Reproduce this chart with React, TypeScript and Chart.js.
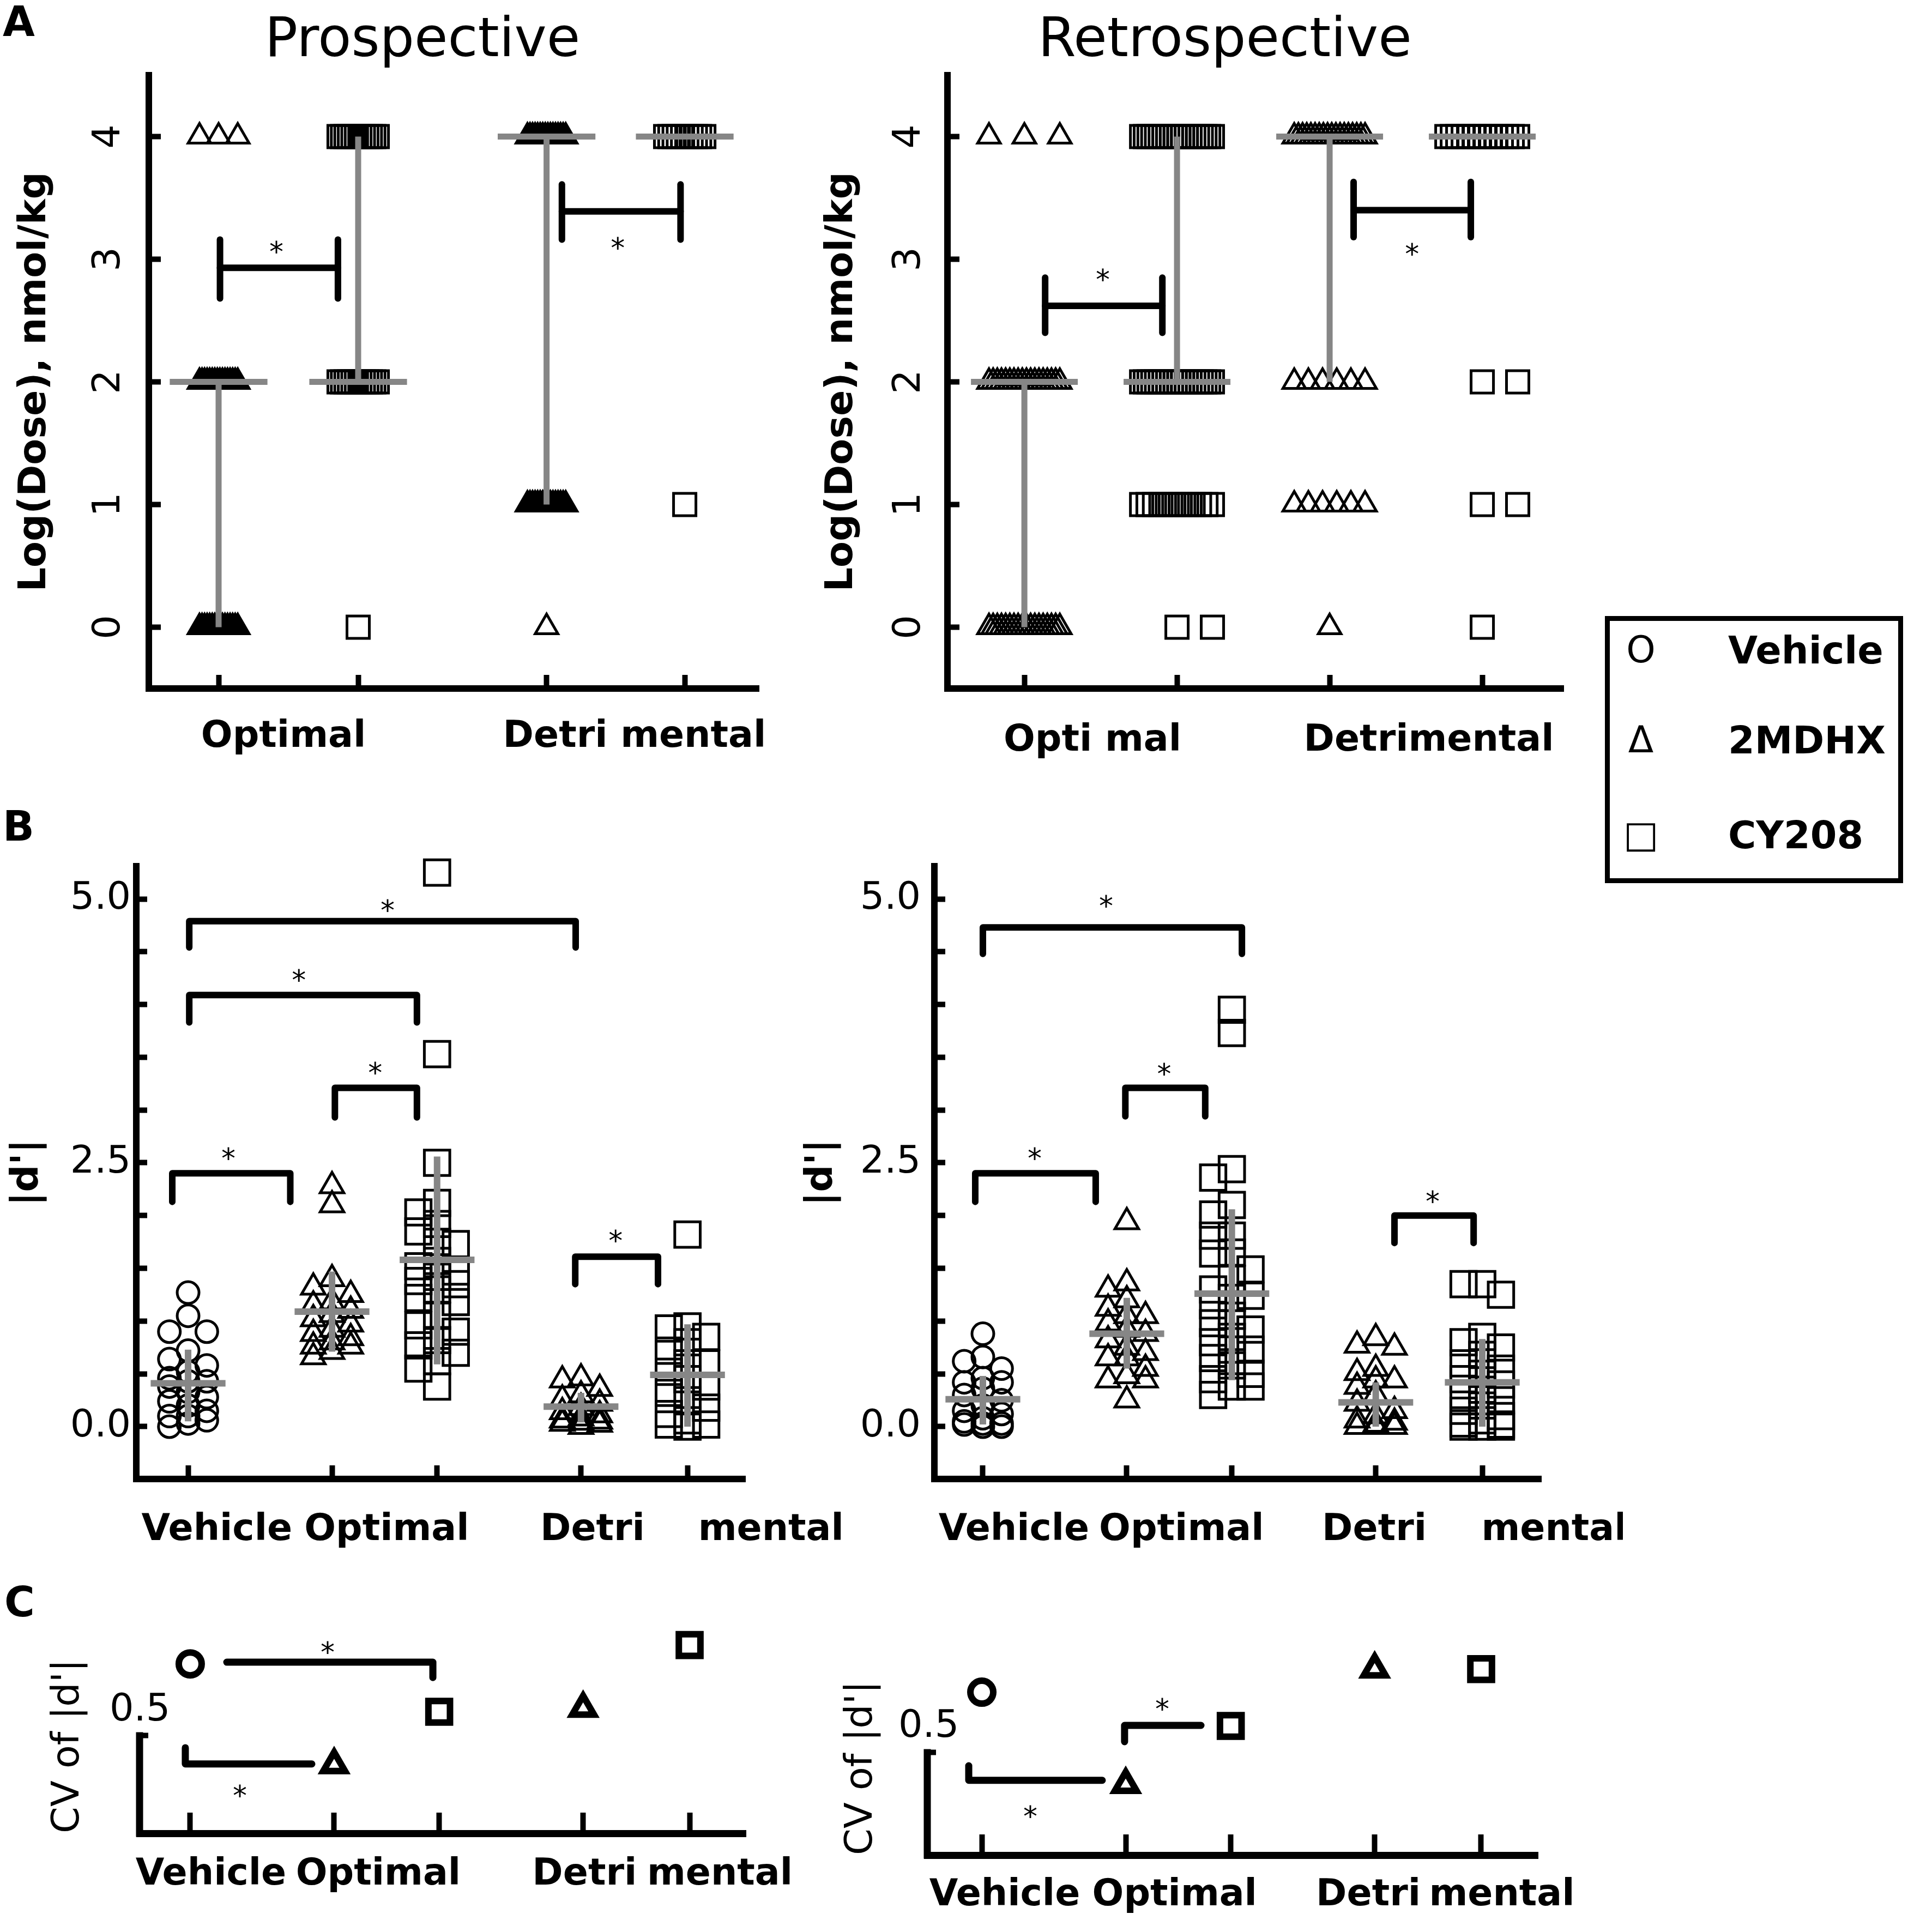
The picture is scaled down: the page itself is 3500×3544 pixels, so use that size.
import React, { useEffect, useRef } from 'react';
import { Chart, registerables } from 'chart.js';

Chart.register(...registerables);

const FONT = '"DejaVu Sans", "Liberation Sans", Arial, sans-serif';
const GRAY = '#868686';
Chart.defaults.font.family = FONT;
Chart.defaults.color = '#000';

// ---------------- Panel A : Log(Dose), nmol/kg ----------------
const A_GROUPS = ['Optimal 2MDHX', 'Optimal CY208', 'Detrimental 2MDHX', 'Detrimental CY208'];
const A_STYLES = ['triangle', 'rect', 'triangle', 'rect'];
const A_Y_TICKS = [0, 1, 2, 3, 4];

const PRO_OPT_2MDHX = [4, 4, 4, 2, 2, 2, 2, 2, 2, 2, 2, 2, 2, 2, 2, 2, 2, 2, 2, 0, 0, 0, 0, 0, 0, 0, 0, 0, 0, 0, 0, 0, 0, 0, 0];
const PRO_OPT_CY208 = [4, 4, 4, 4, 4, 4, 4, 4, 4, 4, 4, 4, 2, 2, 2, 2, 2, 2, 2, 2, 2, 2, 2, 2, 0];
const PRO_DET_2MDHX = [4, 4, 4, 4, 4, 4, 4, 4, 4, 4, 4, 4, 4, 4, 4, 4, 1, 1, 1, 1, 1, 1, 1, 1, 1, 1, 1, 1, 1, 1, 1, 1, 0];
const PRO_DET_CY208 = [4, 4, 4, 4, 4, 4, 4, 4, 4, 4, 1];
const PRO_MEDIAN = [2, 2, 4, 4];
const PRO_LOW = [0, 2, 1, 4];
const PRO_HIGH = [2, 4, 4, 4];

const RETRO_OPT_2MDHX = [4, 4, 4, 2, 2, 2, 2, 2, 2, 2, 2, 2, 2, 2, 2, 2, 2, 2, 2, 2, 2, 0, 0, 0, 0, 0, 0, 0, 0, 0, 0, 0, 0, 0, 0, 0, 0, 0, 0];
const RETRO_OPT_CY208 = [4, 4, 4, 4, 4, 4, 4, 4, 4, 4, 4, 4, 4, 4, 4, 4, 4, 4, 4, 4, 2, 2, 2, 2, 2, 2, 2, 2, 2, 2, 2, 2, 2, 2, 2, 2, 2, 2, 2, 2, 1, 1, 1, 1, 1, 1, 1, 1, 1, 1, 1, 1, 0, 0];
const RETRO_DET_2MDHX = [4, 4, 4, 4, 4, 4, 4, 4, 4, 4, 4, 4, 4, 4, 4, 4, 4, 4, 2, 2, 2, 2, 2, 2, 1, 1, 1, 1, 1, 1, 0];
const RETRO_DET_CY208 = [4, 4, 4, 4, 4, 4, 4, 4, 4, 4, 4, 4, 4, 4, 2, 2, 1, 1, 0];
const RETRO_MEDIAN = [2, 2, 4, 4];
const RETRO_LOW = [0, 2, 2, 4];
const RETRO_HIGH = [2, 4, 4, 4];

// ---------------- Panel B : |d'| ----------------
const BC_GROUPS = ['Vehicle', 'Optimal 2MDHX', 'Optimal CY208', 'Detrimental 2MDHX', 'Detrimental CY208'];
const BC_STYLES = ['circle', 'triangle', 'rect', 'triangle', 'rect'];
const B_Y_TICKS = [0, 0.5, 1, 1.5, 2, 2.5, 3, 3.5, 4, 4.5, 5];

const PRO_D_VEHICLE = [1.27, 1.05, 0.9, 0.9, 0.72, 0.64, 0.58, 0.52, 0.46, 0.43, 0.43, 0.38, 0.33, 0.28, 0.24, 0.2, 0.15, 0.1, 0.1, 0.06, 0.03, 0.0];
const PRO_D_OPT_2MDHX = [2.28, 2.1, 1.4, 1.32, 1.25, 1.18, 1.15, 1.1, 1.06, 1.02, 0.97, 0.92, 0.88, 0.84, 0.8, 0.76, 0.76, 0.71, 0.66];
const PRO_D_OPT_CY208 = [5.25, 3.53, 2.5, 2.12, 2.03, 1.92, 1.85, 1.75, 1.73, 1.57, 1.52, 1.47, 1.42, 1.38, 1.35, 1.3, 1.22, 1.18, 1.05, 0.96, 0.9, 0.82, 0.77, 0.7, 0.62, 0.55, 0.38];
const PRO_D_DET_2MDHX = [0.46, 0.44, 0.36, 0.3, 0.26, 0.22, 0.18, 0.14, 0.11, 0.08, 0.06, 0.05, 0.04, 0.03, 0.02, 0.0];
const PRO_D_DET_CY208 = [1.82, 0.95, 0.93, 0.85, 0.8, 0.72, 0.6, 0.6, 0.52, 0.45, 0.38, 0.32, 0.25, 0.18, 0.12, 0.06, 0.02, 0.02, 0.0];
const PRO_D_MEAN = [0.41, 1.09, 1.58, 0.19, 0.49];
const PRO_D_LOW = [0.05, 0.71, 0.59, 0.04, 0.0];
const PRO_D_HIGH = [0.73, 1.47, 2.56, 0.32, 0.97];

const RETRO_D_VEHICLE = [0.88, 0.66, 0.62, 0.55, 0.46, 0.42, 0.42, 0.36, 0.3, 0.25, 0.2, 0.15, 0.12, 0.08, 0.05, 0.03, 0.03, 0.02, 0.0, 0.0];
const RETRO_D_OPT_2MDHX = [1.94, 1.36, 1.3, 1.2, 1.12, 1.05, 1.05, 0.98, 0.92, 0.88, 0.82, 0.75, 0.7, 0.65, 0.65, 0.55, 0.48, 0.44, 0.44, 0.25];
const RETRO_D_OPT_CY208 = [3.95, 3.73, 2.44, 2.36, 2.1, 2.01, 1.81, 1.81, 1.65, 1.64, 1.49, 1.4, 1.3, 1.24, 1.22, 1.15, 1.05, 0.98, 0.92, 0.85, 0.8, 0.73, 0.73, 0.65, 0.58, 0.5, 0.45, 0.38, 0.38, 0.3];
const RETRO_D_DET_2MDHX = [0.84, 0.77, 0.75, 0.55, 0.51, 0.44, 0.44, 0.38, 0.3, 0.22, 0.15, 0.1, 0.06, 0.04, 0.02, 0.0, 0.0, 0.0];
const RETRO_D_DET_CY208 = [1.35, 1.35, 1.25, 0.85, 0.8, 0.75, 0.68, 0.6, 0.55, 0.5, 0.45, 0.4, 0.35, 0.3, 0.25, 0.2, 0.15, 0.1, 0.06, 0.03, 0.02, 0.0, 0.0, 0.0];
const RETRO_D_MEAN = [0.26, 0.88, 1.26, 0.23, 0.42];
const RETRO_D_LOW = [0.02, 0.55, 0.44, 0.0, 0.0];
const RETRO_D_HIGH = [0.48, 1.22, 2.06, 0.42, 0.83];

// ---------------- Panel C : CV of |d'| ----------------
const C_Y_TICKS = [0.5];
const C_AXIS_TOP = 0.5;
const PRO_CV = [0.92, 0.33, 0.64, 0.66, 1.03];
const RETRO_CV = [0.84, 0.32, 0.65, 0.97, 0.97];

// ---------------- category slots & tick labels ----------------
const PRO_A_SLOTS = [1, 2, 3.35, 4.34];
const RETRO_A_SLOTS = [1, 2, 3, 4];
const BC_SLOTS = [1, 2, 2.73, 3.73, 4.47];

const PRO_A_LABELS = ['Optimal', 'Detri mental'];
const PRO_A_LABEL_POS = [1.465, 3.98];
const RETRO_A_LABELS = ['Opti mal', 'Detrimental'];
const RETRO_A_LABEL_POS = [1.446, 3.65];
const BC_LABELS = ['Vehicle', 'Optimal', 'Detri', 'mental'];
const PRO_B_LABEL_POS = [1.2, 2.38, 3.81, 5.05];
const RETRO_B_LABEL_POS = [1.216, 2.38, 3.72, 4.97];
const PRO_C_LABEL_POS = [1.144, 2.307, 3.74, 4.68];
const RETRO_C_LABEL_POS = [1.159, 2.34, 3.686, 4.614];

// ---------------- significance annotations ----------------
// H-brackets: [x1, x2, y, capLow, capHigh]
const PRO_A_BRACKETS = [[1.01, 1.855, 2.93, 2.68, 3.16], [3.46, 4.31, 3.39, 3.16, 3.61]];
const RETRO_A_BRACKETS = [[1.136, 1.904, 2.62, 2.4, 2.85], [3.157, 3.925, 3.4, 3.18, 3.63]];
// hooks: [x1, x2, y, tipAtX1 | null, tipAtX2 | null]
const PRO_B_BRACKETS = [
  [1.008, 3.693, 4.79, 4.54, 4.54], [1.008, 2.59, 4.09, 3.83, 3.83], [2.02, 2.59, 3.21, 2.93, 2.93],
  [0.89, 1.71, 2.4, 2.13, 2.13], [3.69, 4.265, 1.61, 1.35, 1.35],
];
const RETRO_B_BRACKETS = [
  [1.0, 2.8, 4.73, 4.48, 4.48], [1.99, 2.545, 3.21, 2.94, 2.94], [0.947, 1.784, 2.4, 2.13, 2.13], [3.86, 4.41, 2.0, 1.74, 1.74],
];
const PRO_C_BRACKETS = [[1.254, 2.686, 0.93, null, 0.84], [0.966, 1.845, 0.335, 0.43, null]];
const RETRO_C_BRACKETS = [[0.909, 1.837, 0.344, 0.426, null], [1.992, 2.523, 0.653, 0.561, null]];

const PRO_A_STARS = [[1.414, 3.12], [3.86, 3.15]];
const RETRO_A_STARS = [[1.514, 2.89], [3.54, 3.1]];
const PRO_B_STARS = [[2.386, 4.96], [1.77, 4.3], [2.3, 3.42], [1.28, 2.61], [3.97, 1.83]];
const RETRO_B_STARS = [[1.856, 5.0], [2.26, 3.41], [1.36, 2.61], [4.125, 2.2]];
const PRO_C_STARS = [[1.955, 1.03], [1.345, 0.19]];
const RETRO_C_STARS = [[2.254, 0.785], [1.337, 0.18]];

const LEGEND_SYMBOLS = ['O', '\u0394', '\u25A1'];
const LEGEND_LABELS = ['Vehicle', '2MDHX', 'CY208'];

// ---------------- helpers ----------------
function levelSpread(values: number[], center: number, half: number) {
  const counts = new Map<number, number>();
  values.forEach((v) => counts.set(v, (counts.get(v) || 0) + 1));
  const seen = new Map<number, number>();
  return values.map((v) => {
    const n = counts.get(v) as number;
    const k = seen.get(v) || 0;
    seen.set(v, k + 1);
    let off = 0;
    if (n === 2) off = k === 0 ? 0 : half;
    else if (n > 2) off = -half + (2 * half * k) / (n - 1);
    return { x: center + off, y: v };
  });
}

function swarm(values: number[], center: number, dx: number, minSep: number) {
  const order = values.map((_, i) => i).sort((a, b) => values[b] - values[a]);
  const cols = [0, -1, 1];
  const placed: { c: number; y: number }[] = [];
  const out: any[] = new Array(values.length);
  for (const i of order) {
    const v = values[i];
    let best = 0;
    let bestD = -1;
    for (const c of cols) {
      const ds = placed.filter((p) => p.c === c).map((p) => Math.abs(p.y - v));
      const d = ds.length ? Math.min(...ds) : Infinity;
      if (d >= minSep) { best = c; bestD = Infinity; break; }
      if (d > bestD) { bestD = d; best = c; }
    }
    placed.push({ c: best, y: v });
    out[i] = { x: center + best * dx, y: v };
  }
  return out;
}

function markerSet(label: string, points: any[], style: string, radius: number, bw: number) {
  return {
    label, data: points, yAxisID: 'y', showLine: false, pointStyle: style, pointRadius: radius,
    pointHoverRadius: radius, pointBorderWidth: bw, pointHoverBorderWidth: bw, pointBorderColor: '#000',
    pointBackgroundColor: 'rgba(0,0,0,0)', clip: false, order: 3,
  };
}

function lineSet(label: string, points: any[], color: string, width: number, cap: string, order: number) {
  return {
    label, data: points, yAxisID: 'y', showLine: true, borderColor: color, borderWidth: width,
    borderCapStyle: cap, borderJoinStyle: 'round', pointRadius: 0, pointHoverRadius: 0, tension: 0,
    spanGaps: false, clip: false, order, fill: false,
  };
}

function summaryBars(prefix: string, slots: number[], mid: number[], lo: number[], hi: number[], half: number, width: number) {
  const sets: any[] = [];
  slots.forEach((s, i) => {
    sets.push(lineSet(`${prefix} ${i} centre`, [{ x: s - half, y: mid[i] }, { x: s + half, y: mid[i] }], GRAY, width, 'butt', 1));
    if (hi[i] > lo[i]) sets.push(lineSet(`${prefix} ${i} range`, [{ x: s, y: lo[i] }, { x: s, y: hi[i] }], GRAY, width, 'butt', 1));
  });
  return sets;
}

function hBrackets(list: number[][], width: number) {
  const sets: any[] = [];
  list.forEach(([x1, x2, y, lo, hi], i) => {
    sets.push(lineSet(`sig ${i} a`, [{ x: x1, y: lo }, { x: x1, y: hi }], '#000', width, 'round', 0));
    sets.push(lineSet(`sig ${i} b`, [{ x: x1, y }, { x: x2, y }], '#000', width, 'round', 0));
    sets.push(lineSet(`sig ${i} c`, [{ x: x2, y: lo }, { x: x2, y: hi }], '#000', width, 'round', 0));
  });
  return sets;
}

function hookBrackets(list: any[][], width: number) {
  return list.map(([x1, x2, y, t1, t2], i) => {
    const pts: any[] = [];
    if (t1 !== null) pts.push({ x: x1, y: t1 });
    pts.push({ x: x1, y });
    pts.push({ x: x2, y });
    if (t2 !== null) pts.push({ x: x2, y: t2 });
    return lineSet(`sig ${i}`, pts, '#000', width, 'round', 0);
  });
}

const starPlugin = {
  id: 'sigStars',
  afterDatasetsDraw(chart: any, _args: any, opts: any) {
    const items = (opts && opts.items) || [];
    const size = (opts && opts.size) || 52;
    const { ctx } = chart;
    const xs = chart.scales.x;
    const ys = chart.scales.y;
    ctx.save();
    ctx.fillStyle = '#000';
    ctx.font = `${size}px ${FONT}`;
    ctx.textAlign = 'center';
    ctx.textBaseline = 'alphabetic';
    for (let i = 0; i < items.length; i++) {
      const s = items[i];
      ctx.fillText('*', xs.getPixelForValue(s[0]), ys.getPixelForValue(s[1]) + 0.6 * size);
    }
    ctx.restore();
  },
};

// y-axis line that stops at a given value (panel C axis is shorter than the plot area)
const partialAxisPlugin = {
  id: 'partialAxis',
  beforeDatasetsDraw(chart: any, _args: any, opts: any) {
    if (!opts || !opts.enabled) return;
    const { ctx, chartArea } = chart;
    const ys = chart.scales.y;
    const yTop = ys.getPixelForValue(opts.top) - opts.width / 2;
    ctx.save();
    ctx.strokeStyle = '#000';
    ctx.lineWidth = opts.width;
    ctx.lineCap = 'butt';
    ctx.beginPath();
    ctx.moveTo(chartArea.left, chartArea.bottom + opts.width / 2);
    ctx.lineTo(chartArea.left, yTop);
    ctx.stroke();
    ctx.restore();
  },
};

// ---------------- panel specs ----------------
function aDatasets(groups: number[][], slots: number[], half: number, med: number[], lo: number[], hi: number[], brackets: number[][]) {
  const sets: any[] = [];
  groups.forEach((vals, i) => {
    const style = A_STYLES[i];
    sets.push(markerSet(A_GROUPS[i], levelSpread(vals, slots[i], half), style, style === 'rect' ? 29 : 24, 5));
  });
  return [...sets, ...summaryBars('median', slots, med, lo, hi, 0.35, 11), ...hBrackets(brackets, 12)];
}

function bDatasets(groups: number[][], mean: number[], lo: number[], hi: number[], brackets: any[][]) {
  const sets: any[] = [];
  groups.forEach((vals, i) => {
    const style = BC_STYLES[i];
    const r = style === 'rect' ? 33 : style === 'triangle' ? 25 : 20;
    sets.push(markerSet(BC_GROUPS[i], swarm(vals, BC_SLOTS[i], 0.13, 0.16), style, r, 5));
  });
  return [...sets, ...summaryBars('mean', BC_SLOTS, mean, lo, hi, 0.26, 12), ...hookBrackets(brackets, 12)];
}

function cDatasets(cv: number[], brackets: any[][]) {
  const sets = cv.map((v, i) => {
    const style = BC_STYLES[i];
    const r = style === 'rect' ? 28 : style === 'triangle' ? 23 : 21;
    return markerSet(BC_GROUPS[i], [{ x: BC_SLOTS[i], y: v }], style, r, 12);
  });
  return [...sets, ...hookBrackets(brackets, 13)];
}

const fmtInt = (v: number) => String(v);
const fmtD = (v: number) => (Math.abs(v / 2.5 - Math.round(v / 2.5)) < 1e-9 ? v.toFixed(1) : '');
const fmtCV = (v: number) => v.toFixed(1);

const PANELS: any[] = [
  {
    key: 'A-pro', left: 0, top: 0, width: 1550, height: 1423, yAxisWidth: 273, xAxisHeight: 160, padTop: 0, padRight: 0, rightGap: 158,
    title: 'Prospective',
    x: { min: 0.5, max: 4.871, marks: PRO_A_SLOTS, labels: PRO_A_LABELS, labelPos: PRO_A_LABEL_POS, tickLen: 25, labelPad: 74 },
    y: { min: -0.5, max: 4.5, ticks: A_Y_TICKS, fmt: fmtInt, rotate: 90, crossAlign: 'center', mirror: false, pad: 72, labelOffset: 0, tickLen: 22,
      title: 'Log(Dose), nmol/kg', titleWeight: 'bold', titlePad: 23, titleAlign: 'center' },
    axisWidth: 12, partialTop: null,
    datasets: aDatasets([PRO_OPT_2MDHX, PRO_OPT_CY208, PRO_DET_2MDHX, PRO_DET_CY208], PRO_A_SLOTS, 0.137, PRO_MEDIAN, PRO_LOW, PRO_HIGH, PRO_A_BRACKETS),
    stars: PRO_A_STARS,
  },
  {
    key: 'A-retro', left: 1480, top: 0, width: 1534, height: 1423, yAxisWidth: 258, xAxisHeight: 160, padTop: 0, padRight: 0, rightGap: 146,
    title: 'Retrospective',
    x: { min: 0.496, max: 4.532, marks: RETRO_A_SLOTS, labels: RETRO_A_LABELS, labelPos: RETRO_A_LABEL_POS, tickLen: 25, labelPad: 81 },
    y: { min: -0.5, max: 4.5, ticks: A_Y_TICKS, fmt: fmtInt, rotate: 90, crossAlign: 'center', mirror: false, pad: 69, labelOffset: 0, tickLen: 22,
      title: 'Log(Dose), nmol/kg', titleWeight: 'bold', titlePad: 23, titleAlign: 'center' },
    axisWidth: 12, partialTop: null,
    datasets: aDatasets([RETRO_OPT_2MDHX, RETRO_OPT_CY208, RETRO_DET_2MDHX, RETRO_DET_CY208], RETRO_A_SLOTS, 0.232, RETRO_MEDIAN, RETRO_LOW, RETRO_HIGH, RETRO_A_BRACKETS),
    stars: RETRO_A_STARS,
  },
  {
    key: 'B-pro', left: 0, top: 1489, width: 1567, height: 1374, yAxisWidth: 250, xAxisHeight: 150, padTop: 100, padRight: 200, rightGap: 0,
    x: { min: 0.64, max: 4.871, marks: BC_SLOTS, labels: BC_LABELS, labelPos: PRO_B_LABEL_POS, tickLen: 25, labelPad: 79 },
    y: { min: -0.496, max: 5.31, ticks: B_Y_TICKS, fmt: fmtD, rotate: 0, crossAlign: 'near', mirror: false, pad: 30, labelOffset: 0, tickLen: 20,
      title: "|d'|", titleWeight: 'bold', titlePad: 9, titleAlign: 'center' },
    axisWidth: 12, partialTop: null,
    datasets: bDatasets([PRO_D_VEHICLE, PRO_D_OPT_2MDHX, PRO_D_OPT_CY208, PRO_D_DET_2MDHX, PRO_D_DET_CY208], PRO_D_MEAN, PRO_D_LOW, PRO_D_HIGH, PRO_B_BRACKETS),
    stars: PRO_B_STARS,
  },
  {
    key: 'B-retro', left: 1450, top: 1489, width: 1527, height: 1374, yAxisWidth: 264, xAxisHeight: 150, padTop: 100, padRight: 150, rightGap: 0,
    x: { min: 0.663, max: 4.879, marks: BC_SLOTS, labels: BC_LABELS, labelPos: RETRO_B_LABEL_POS, tickLen: 25, labelPad: 79 },
    y: { min: -0.496, max: 5.31, ticks: B_Y_TICKS, fmt: fmtD, rotate: 0, crossAlign: 'near', mirror: false, pad: 45, labelOffset: 0, tickLen: 20,
      title: "|d'|", titleWeight: 'bold', titlePad: 16, titleAlign: 'center' },
    axisWidth: 12, partialTop: null,
    datasets: bDatasets([RETRO_D_VEHICLE, RETRO_D_OPT_2MDHX, RETRO_D_OPT_CY208, RETRO_D_DET_2MDHX, RETRO_D_DET_CY208], RETRO_D_MEAN, RETRO_D_LOW, RETRO_D_HIGH, RETRO_B_BRACKETS),
    stars: RETRO_B_STARS,
  },
  {
    key: 'C-pro', left: 0, top: 2940, width: 1478, height: 593, yAxisWidth: 256, xAxisHeight: 170, padTop: 25, padRight: 110, rightGap: 0,
    x: { min: 0.648, max: 4.86, marks: BC_SLOTS, labels: BC_LABELS, labelPos: PRO_C_LABEL_POS, tickLen: 38, labelPad: 74 },
    y: { min: -0.0706, max: 1.15, ticks: C_Y_TICKS, fmt: fmtCV, rotate: 0, crossAlign: 'near', mirror: true, pad: -55, labelOffset: -46, tickLen: 16,
      title: "CV of |d'|", titleWeight: 'normal', titlePad: 84, titleAlign: 'start' },
    axisWidth: 13, partialTop: C_AXIS_TOP,
    datasets: cDatasets(PRO_CV, PRO_C_BRACKETS),
    stars: PRO_C_STARS,
  },
  {
    key: 'C-retro', left: 1500, top: 2960, width: 1421, height: 584, yAxisWidth: 201, xAxisHeight: 141, padTop: 43, padRight: 100, rightGap: 0,
    x: { min: 0.621, max: 4.864, marks: BC_SLOTS, labels: BC_LABELS, labelPos: RETRO_C_LABEL_POS, tickLen: 38, labelPad: 72 },
    y: { min: -0.077, max: 1.15, ticks: C_Y_TICKS, fmt: fmtCV, rotate: 0, crossAlign: 'near', mirror: true, pad: -53, labelOffset: -47, tickLen: 16,
      title: "CV of |d'|", titleWeight: 'normal', titlePad: 39, titleAlign: 'start' },
    axisWidth: 13, partialTop: C_AXIS_TOP,
    datasets: cDatasets(RETRO_CV, RETRO_C_BRACKETS),
    stars: RETRO_C_STARS,
  },
];

function buildConfig(p: any): any {
  const labelMap = new Map<number, string>();
  p.x.labelPos.forEach((pos: number, i: number) => labelMap.set(pos, p.x.labels[i]));
  const markSet = new Set<number>(p.x.marks);
  const xTickValues = [p.x.marks[0], ...p.x.labelPos, ...p.x.marks.slice(1)];
  const partial = p.partialTop !== null;

  const scales: any = {
    x: {
      type: 'linear', position: 'bottom', min: p.x.min, max: p.x.max,
      afterBuildTicks: (s: any) => { s.ticks = xTickValues.map((v: number) => ({ value: v })); },
      afterFit: (s: any) => { s.height = p.xAxisHeight; },
      ticks: {
        autoSkip: false, minRotation: 0, maxRotation: 0, padding: p.x.labelPad, color: '#000',
        font: { family: FONT, size: 68, weight: 'bold' },
        callback: (v: number) => (labelMap.has(v) ? labelMap.get(v) : ''),
      },
      grid: {
        display: true, drawOnChartArea: false, drawTicks: true, tickLength: -p.x.tickLen, tickWidth: 10,
        tickColor: (c: any) => (c.tick && markSet.has(c.tick.value) ? '#000' : 'rgba(0,0,0,0)'),
      },
      border: { display: true, color: '#000', width: p.axisWidth },
    },
    y: {
      type: 'linear', position: 'left', min: p.y.min, max: p.y.max,
      afterBuildTicks: (s: any) => { s.ticks = p.y.ticks.map((v: number) => ({ value: v })); },
      afterFit: (s: any) => { s.width = p.yAxisWidth; },
      ticks: {
        autoSkip: false, minRotation: p.y.rotate, maxRotation: p.y.rotate, crossAlign: p.y.crossAlign, mirror: p.y.mirror,
        padding: p.y.pad, labelOffset: p.y.labelOffset, color: '#000',
        font: { family: FONT, size: 70, weight: 'normal' },
        callback: (v: number) => p.y.fmt(v),
      },
      grid: { display: true, drawOnChartArea: false, drawTicks: true, tickLength: -p.y.tickLen, tickWidth: 10, tickColor: '#000' },
      border: { display: !partial, color: '#000', width: p.axisWidth },
      title: {
        display: true, text: p.y.title, color: '#000', align: p.y.titleAlign,
        font: { family: FONT, size: 70, weight: p.y.titleWeight },
        padding: { top: p.y.titlePad, bottom: 0 },
      },
    },
  };
  if (p.rightGap) {
    scales.gap = {
      type: 'linear', position: 'right', display: true,
      ticks: { display: false }, grid: { display: false }, border: { display: false },
      afterFit: (s: any) => { s.width = p.rightGap; },
    };
  }

  return {
    type: 'scatter',
    data: { datasets: p.datasets },
    options: {
      responsive: false,
      maintainAspectRatio: false,
      animation: false,
      devicePixelRatio: 1,
      events: [],
      layout: { padding: { top: p.padTop, right: p.padRight, left: 0, bottom: 0 } },
      plugins: {
        legend: { display: false },
        tooltip: { enabled: false },
        title: p.title
          ? { display: true, text: p.title, color: '#000', font: { family: FONT, size: 100, weight: 'normal' }, padding: { top: 17, bottom: 1 } }
          : { display: false },
        sigStars: { items: p.stars, size: 52 },
        partialAxis: { enabled: partial, top: partial ? p.partialTop : 0, width: p.axisWidth },
      },
      scales,
    },
    plugins: [starPlugin, partialAxisPlugin],
  };
}

function ChartPanel({ spec }: { spec: any }) {
  const ref = useRef<HTMLCanvasElement>(null);
  useEffect(() => {
    const canvas = ref.current;
    if (!canvas) return;
    const chart = new Chart(canvas, buildConfig(spec));
    return () => chart.destroy();
  }, [spec]);
  return (
    <canvas
      ref={ref}
      width={spec.width}
      height={spec.height}
      style={{ position: 'absolute', left: spec.left, top: spec.top, width: spec.width, height: spec.height }}
    />
  );
}

const LETTERS = [
  { t: 'A', left: 5, top: 2 },
  { t: 'B', left: 5, top: 1478 },
  { t: 'C', left: 8, top: 2901 },
];
const LEGEND_CENTERS = [1202, 1367, 1541];

export default function App() {
  const boxLeft = 2944;
  const boxTop = 1130;
  const border = 9;
  return (
    <div style={{ position: 'absolute', left: 0, top: 0, width: 3500, height: 3544, overflow: 'hidden', background: '#fff' }}>
      {PANELS.map((p) => <ChartPanel key={p.key} spec={p} />)}
      {LETTERS.map((l) => (
        <div key={l.t} style={{ position: 'absolute', left: l.left, top: l.top, font: `bold 76px ${FONT}`, lineHeight: '76px', color: '#000' }}>{l.t}</div>
      ))}
      <div style={{ position: 'absolute', left: boxLeft, top: boxTop, width: 547, height: 490, border: `${border}px solid #000`, boxSizing: 'border-box' }}>
        {LEGEND_LABELS.map((lab, i) => (
          <React.Fragment key={lab}>
            <div style={{ position: 'absolute', left: 3010 - boxLeft - border - 40, top: LEGEND_CENTERS[i] - boxTop - border - 50, width: 80, height: 100, lineHeight: '100px', textAlign: 'center', font: `68px ${FONT}`, color: '#000' }}>{LEGEND_SYMBOLS[i]}</div>
            <div style={{ position: 'absolute', left: 3170 - boxLeft - border, top: LEGEND_CENTERS[i] - boxTop - border - 50, height: 100, lineHeight: '100px', whiteSpace: 'nowrap', font: `bold 70px ${FONT}`, color: '#000' }}>{lab}</div>
          </React.Fragment>
        ))}
      </div>
    </div>
  );
}
